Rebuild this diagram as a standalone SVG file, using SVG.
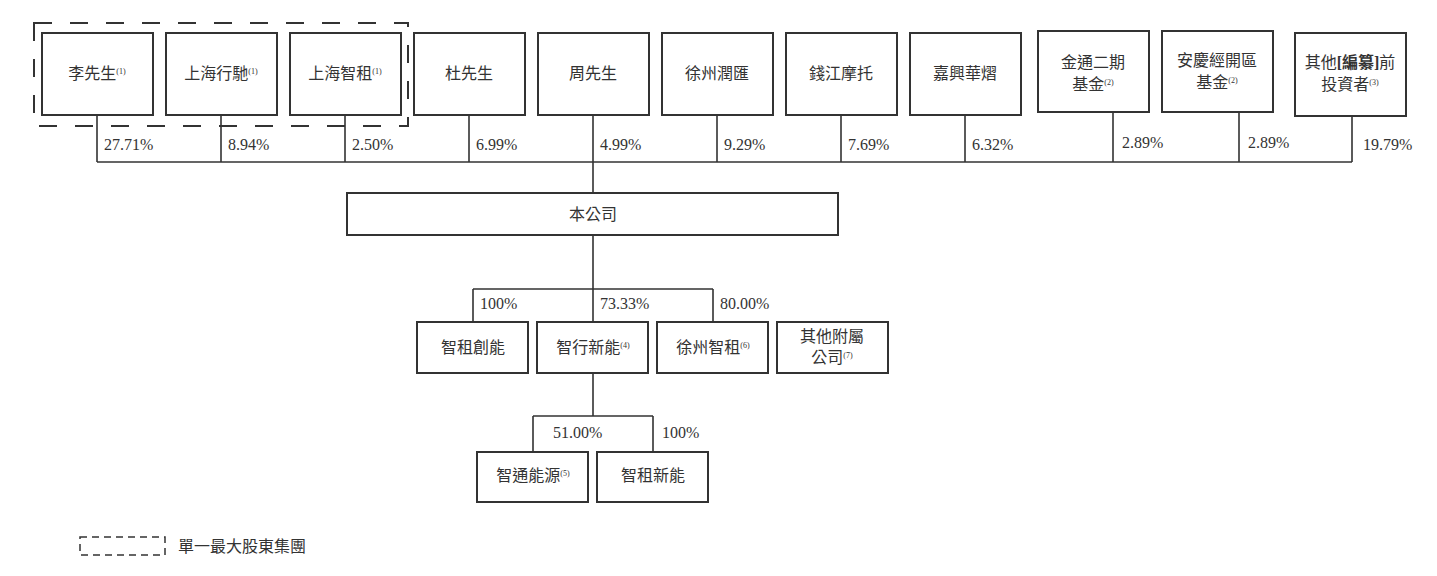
<svg xmlns="http://www.w3.org/2000/svg" width="1437" height="576" viewBox="0 0 1437 576">
<style>
rect.n{fill:#fff;stroke:#333;stroke-width:2}
.d{fill:none;stroke:#333;stroke-width:2;stroke-dasharray:18,18}
#c path{fill:none;stroke:#333;stroke-width:1.6}
text{font-family:"Liberation Serif","Noto Sans CJK TC",serif;font-size:16px;fill:#333}
.m{text-anchor:middle}
.s{font-size:8px}
</style>
<rect width="1437" height="576" fill="#fff"/>
<g id="c"><path d="M97 115V162M221 115V162M345 115V162M469 115V162M593 115V193M717 115V162M841 115V162M965 115V162M1113 112V162M1239 112V162M1352 116V162M97 162H1352M593 235V322M473 289H713M473 289V322M713 289V322M593 373V416M533 416H653M533 416V452M653 416V452"/></g>
<rect class="d" x="34" y="23" width="374" height="103"/>
<g id="n1"><rect class="n" x="42" y="33" width="111" height="82"/><text class="m" x="97" y="79">李先生<tspan class="s" dy="-5">(1)</tspan></text></g>
<g id="n2"><rect class="n" x="166" y="33" width="111" height="82"/><text class="m" x="221" y="79">上海行馳<tspan class="s" dy="-5">(1)</tspan></text></g>
<g id="n3"><rect class="n" x="290" y="33" width="111" height="82"/><text class="m" x="345" y="79">上海智租<tspan class="s" dy="-5">(1)</tspan></text></g>
<g id="n4"><rect class="n" x="414" y="33" width="111" height="82"/><text class="m" x="469" y="79">杜先生</text></g>
<g id="n5"><rect class="n" x="538" y="33" width="111" height="82"/><text class="m" x="593" y="79">周先生</text></g>
<g id="n6"><rect class="n" x="662" y="33" width="111" height="82"/><text class="m" x="717" y="79">徐州潤匯</text></g>
<g id="n7"><rect class="n" x="786" y="33" width="111" height="82"/><text class="m" x="841" y="79">錢江摩托</text></g>
<g id="n8"><rect class="n" x="910" y="33" width="111" height="82"/><text class="m" x="965" y="79">嘉興華熠</text></g>
<g id="n9"><rect class="n" x="1038" y="31" width="111" height="81"/><text class="m" x="1093" y="68">金通二期</text><text class="m" x="1093" y="90">基金<tspan class="s" dy="-5">(2)</tspan></text></g>
<g id="n10"><rect class="n" x="1162" y="31" width="111" height="81"/><text class="m" x="1217" y="66">安慶經開區</text><text class="m" x="1217" y="88">基金<tspan class="s" dy="-5">(2)</tspan></text></g>
<g id="n11"><rect class="n" x="1295" y="33" width="111" height="83"/><text class="m" x="1350" y="68">其他<tspan font-weight="bold">[編纂]</tspan>前</text><text class="m" x="1350" y="90">投資者<tspan class="s" dy="-5">(3)</tspan></text></g>
<g id="pct">
<text x="104" y="150">27.71%</text><text x="228" y="150">8.94%</text><text x="352" y="150">2.50%</text><text x="476" y="150">6.99%</text><text x="600" y="150">4.99%</text><text x="724" y="150">9.29%</text><text x="848" y="150">7.69%</text><text x="972" y="150">6.32%</text><text x="1122" y="148">2.89%</text><text x="1248" y="148">2.89%</text><text x="1363" y="150">19.79%</text>
<text x="480" y="309">100%</text><text x="600" y="309">73.33%</text><text x="720" y="309">80.00%</text>
<text x="553" y="438">51.00%</text><text x="662" y="438">100%</text>
</g>
<g id="co"><rect class="n" x="347" y="193" width="491" height="42"/><text class="m" x="593" y="220">本公司</text></g>
<g id="s1"><rect class="n" x="417" y="322" width="111" height="51"/><text class="m" x="473" y="353">智租創能</text></g>
<g id="s2"><rect class="n" x="537" y="322" width="111" height="51"/><text class="m" x="593" y="353">智行新能<tspan class="s" dy="-5">(4)</tspan></text></g>
<g id="s3"><rect class="n" x="657" y="322" width="111" height="51"/><text class="m" x="713" y="353">徐州智租<tspan class="s" dy="-5">(6)</tspan></text></g>
<g id="s4"><rect class="n" x="777" y="322" width="111" height="51"/><text class="m" x="832" y="342">其他附屬</text><text class="m" x="832" y="363">公司<tspan class="s" dy="-5">(7)</tspan></text></g>
<g id="t1"><rect class="n" x="477" y="452" width="111" height="50"/><text class="m" x="533" y="481">智通能源<tspan class="s" dy="-5">(5)</tspan></text></g>
<g id="t2"><rect class="n" x="597" y="452" width="111" height="50"/><text class="m" x="653" y="481">智租新能</text></g>
<g id="legend"><rect x="80" y="537" width="85" height="18" fill="none" stroke="#333" stroke-width="1.5" stroke-dasharray="7,5"/><text x="178" y="552">單一最大股東集團</text></g>
</svg>
